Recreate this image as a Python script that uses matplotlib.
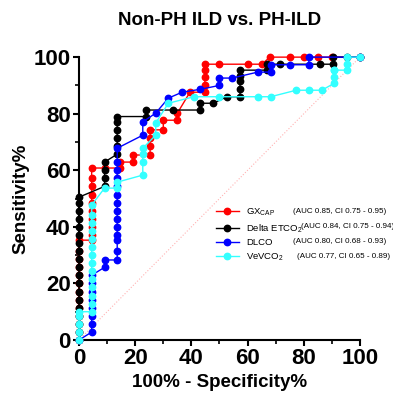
import numpy as np
import matplotlib
matplotlib.use("Agg")
import matplotlib.pyplot as plt
from matplotlib.lines import Line2D
from matplotlib.ticker import MultipleLocator

plt.rcParams['font.family'] = ['Liberation Sans', 'DejaVu Sans']
plt.rcParams['mathtext.fontset'] = 'custom'
plt.rcParams['mathtext.rm'] = 'Liberation Sans'
plt.rcParams['mathtext.it'] = 'Liberation Sans'

# ROC points (x = 100% - specificity, y = sensitivity)
gx_x = [0, 0, 0, 0, 0, 0, 0, 0, 0, 0, 0, 0, 0,
        4.5, 4.5, 4.5, 4.5, 4.5, 4.5, 4.5, 4.5, 4.5, 4.5,
        9.1, 14.6, 14.6, 19.2, 19.2, 25.3, 25.3, 25.3, 25.3, 30, 30, 35, 35,
        39.5, 44.8, 44.8, 44.8, 44.8, 44.8, 50, 60, 65, 68, 75, 80, 85, 90, 100]
gx_y = [0, 2.9, 5.7, 8.6, 11.4, 14.3, 17.1, 20, 22.9, 25.7, 28.6, 31.4, 35.3,
        35.3, 37.1, 40, 42.9, 45.7, 48.6, 51.4, 54.3, 57.1, 60.8,
        60.8, 60.8, 62.9, 62.9, 65.4, 65.4, 68.6, 71.4, 74.3, 74.3, 77.7, 77.7, 80.2,
        87.6, 87.6, 90, 92.9, 95.4, 97.5, 97.5, 97.5, 97.5, 100, 100, 100, 100, 100, 100]

etco_x = [0, 0, 0, 0, 0, 0, 0, 0, 0, 0, 0, 0, 0, 0, 0, 0, 0, 0, 0,
          9.1, 9.1, 9.1, 9.1,
          13.6, 13.6, 13.6, 13.6, 13.6, 13.6,
          24, 24, 33.5, 43, 43, 47.7, 52.7, 57.3, 57.3, 57.3, 57.3, 57.3,
          67, 67, 71.5, 85.8, 90.4, 90.4, 95.4, 100]
etco_y = [0, 2.9, 5.7, 8.6, 11.4, 14.3, 17.1, 20, 22.9, 25.7, 28.6, 31.4, 34.3, 37.1, 40, 42.9, 45.7, 48.6, 50.5,
          54.3, 57.1, 60, 62.9,
          65.7, 68.6, 71.4, 74.3, 77.1, 79,
          79, 81.3, 81.3, 81.3, 83.7, 83.7, 86, 86, 88.6, 91.4, 93.5, 95.4,
          95.4, 97.5, 97.5, 97.5, 97.5, 100, 100, 100]

dlco_x = [0, 4.5, 4.5, 4.5, 4.5, 4.5, 4.5, 4.5, 4.5,
          9.1, 9.1, 13.6, 13.6, 13.6, 13.6, 13.6, 13.6, 13.6, 13.6, 13.6, 13.6, 13.6, 13.6, 13.6, 13.6,
          22.7, 22.7, 27.3, 31.8, 36.7, 43, 50, 50, 54.5, 63.6, 68.2, 68.2, 75, 81.8, 81.8, 100]
dlco_y = [0, 2.8, 5.7, 8.6, 11.4, 14.3, 17.1, 20, 22.9,
          25.7, 28.3, 28.3, 31.4, 35.3, 37.1, 40, 42.9, 45.7, 48.6, 51.4, 54.3, 57.1, 60, 62.9, 67.8,
          72.4, 77.1, 80.2, 85.5, 87.6, 88.6, 90, 92.6, 92.6, 94.7, 94.7, 97.3, 97.3, 97.3, 100, 100]

vco_x = [0, 0, 0, 0, 0, 4.5, 4.5, 4.5, 4.5, 4.5, 4.5, 4.5, 4.5, 4.5, 4.5, 4.5, 4.5, 4.5, 4.5,
         9.1, 13.6, 13.6, 22.7, 22.7, 22.7, 22.7, 27.3, 27.3, 31.8, 40.9, 50, 63.6, 68.2,
         77.3, 81.8, 86.4, 90.9, 90.9, 90.9, 90.9, 95.5, 95.5, 95.5, 100]
vco_y = [0, 2.9, 5.7, 8.6, 10, 10, 12.9, 15.7, 18.6, 21.4, 24.3, 27.1, 30, 32.9, 35.7, 38.6, 41.4, 44.3, 47.7,
         53.7, 53.7, 55.8, 58.3, 62.9, 65.7, 67.8, 72.4, 76.7, 83.7, 86, 86, 86, 86,
         88.3, 88.3, 88.3, 90.8, 92.9, 95.4, 95.4, 95.4, 97.7, 100, 100]

names = ['GX$_{CAP}$', 'Delta ETCO$_2$', 'DLCO', 'VeVCO$_2$']
auc_text = ['(AUC 0.85, CI 0.75 - 0.95)', '(AUC 0.84, CI 0.75 - 0.94)',
            '(AUC 0.80, CI 0.68 - 0.93)', '(AUC 0.77, CI 0.65 - 0.89)']
colors = ['#ff0000', '#000000', '#0000ff', '#33ffff']

fig = plt.figure(figsize=(3.93, 3.94), dpi=100)
ax = fig.add_axes([0.201, 0.137, 0.715, 0.718])

ax.plot([0, 100], [0, 100], color='#ffb3b3', lw=0.8, ls=':', zorder=1)

series = {0: (gx_x, gx_y), 2: (dlco_x, dlco_y), 1: (etco_x, etco_y), 3: (vco_x, vco_y)}
for i in [0, 2, 1, 3]:
    xs, ys = series[i]
    ax.plot(xs, ys, color=colors[i], lw=1.0, marker='o', ms=4.6, mec=colors[i],
            clip_on=False, zorder=3 + i)

ax.set_xlim(0, 100)
ax.set_ylim(0, 100)
ax.spines['top'].set_visible(False)
ax.spines['right'].set_visible(False)
ax.spines['left'].set_linewidth(1.5)
ax.spines['bottom'].set_linewidth(1.5)
ax.xaxis.set_major_locator(MultipleLocator(20))
ax.xaxis.set_minor_locator(MultipleLocator(10))
ax.yaxis.set_major_locator(MultipleLocator(20))
ax.yaxis.set_minor_locator(MultipleLocator(10))
ax.tick_params(which='major', length=4.5, width=1.5, labelsize=16, pad=1.5)
ax.tick_params(which='minor', length=3, width=1.2)
for lab in ax.get_xticklabels() + ax.get_yticklabels():
    lab.set_fontweight('bold')

ax.set_xlabel('100% - Specificity%', fontsize=13.5, fontweight='bold', labelpad=3)
ax.set_ylabel('Sensitivity%', fontsize=13.5, fontweight='bold', labelpad=3)
ax.set_title('Non-PH ILD vs. PH-ILD', fontsize=13.5, fontweight='bold', pad=23)

handles = [Line2D([0], [0], color=c, lw=1.0, marker='o', ms=4.6) for c in colors]
ax.legend(handles, names, loc='upper left', bbox_to_anchor=(208 / 393, 1 - 199 / 394),
          bbox_transform=fig.transFigure, frameon=False, fontsize=6.8,
          handlelength=2.45, handletextpad=0.75, labelspacing=0.42, borderpad=0.3)

auc_pos = [(293, 212), (301, 227), (293, 242), (297, 257)]
for (px, py), t in zip(auc_pos, auc_text):
    fig.text(px / 393, 1 - py / 394, t, fontsize=5.8, va='center', ha='left')

fig.savefig('out.png', dpi=100)
